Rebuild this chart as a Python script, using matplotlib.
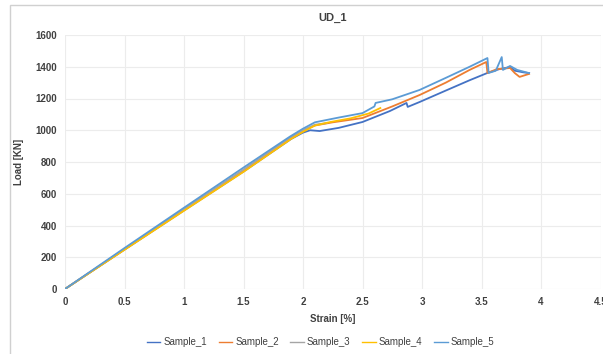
import matplotlib.pyplot as plt
from matplotlib.patches import Rectangle

# strain [%] / load [KN]
s1_strain = [0, 0.5, 1.0, 1.5, 1.9, 2.0, 2.06, 2.14, 2.3, 2.5, 2.73, 2.87, 2.88, 2.98, 3.2, 3.4, 3.55, 3.65, 3.74, 3.78, 3.85, 3.9]
s1_load = [0, 248, 495, 740, 945, 985, 1000, 995, 1015, 1052, 1121, 1172, 1147, 1178, 1250, 1315, 1361, 1385, 1398, 1375, 1365, 1360]

s2_strain = [0, 0.5, 1.0, 1.5, 1.9, 2.0, 2.1, 2.25, 2.5, 2.75, 2.98, 3.2, 3.4, 3.54, 3.55, 3.63, 3.74, 3.78, 3.82, 3.9]
s2_load = [0, 250, 500, 748, 955, 998, 1030, 1050, 1077, 1150, 1222, 1300, 1380, 1430, 1361, 1385, 1392, 1360, 1336, 1355]

s3_strain = [0, 0.5, 1.0, 1.5, 1.9, 2.0, 2.1, 2.2]
s3_load = [0, 252, 502, 752, 958, 1000, 1035, 1045]

s4_strain = [0, 0.5, 1.0, 1.5, 1.9, 2.0, 2.1, 2.23, 2.4, 2.55, 2.65]
s4_load = [0, 247, 493, 738, 945, 990, 1030, 1052, 1075, 1105, 1140]

s5_strain = [0, 0.5, 1.0, 1.5, 1.89, 2.0, 2.1, 2.3, 2.5, 2.6, 2.61, 2.75, 2.98, 3.2, 3.4, 3.55, 3.56, 3.62, 3.67, 3.68, 3.74, 3.8, 3.85, 3.9]
s5_load = [0, 258, 512, 765, 960, 1010, 1050, 1080, 1108, 1150, 1172, 1195, 1254, 1330, 1400, 1455, 1361, 1375, 1461, 1380, 1405, 1380, 1370, 1360]

names = ['Sample_1', 'Sample_2', 'Sample_3', 'Sample_4', 'Sample_5']
colors = ['#4472C4', '#ED7D31', '#A5A5A5', '#FFC000', '#5B9BD5']
x_ticks = [0, 0.5, 1, 1.5, 2, 2.5, 3, 3.5, 4, 4.5]
x_labels = ['0', '0.5', '1', '1.5', '2', '2.5', '3', '3.5', '4', '4.5']
y_ticks = [0, 200, 400, 600, 800, 1000, 1200, 1400, 1600]

plt.rcParams['font.family'] = ['Liberation Sans', 'DejaVu Sans']

fig = plt.figure(figsize=(6.03, 3.54), dpi=100)
ax = fig.add_axes([65 / 603, 1 - 289 / 354, (600.5 - 65) / 603, (289 - 35) / 354])

# outer chart frame
fig.patches.append(Rectangle((10 / 603, -0.1), 1.2, 1 - 5 / 354 + 0.1, transform=fig.transFigure,
                             fill=False, edgecolor='#d0d0d0', linewidth=1, clip_on=False))

series = [(s1_strain, s1_load), (s2_strain, s2_load), (s3_strain, s3_load),
          (s4_strain, s4_load), (s5_strain, s5_load)]
for (xs, ys), name, c in zip(series, names, colors):
    ax.plot(xs, ys, color=c, linewidth=1.3, label=name)

ax.set_xlim(0, 4.5)
ax.set_ylim(0, 1600)
ax.set_xticks(x_ticks)
ax.set_xticklabels(x_labels)
ax.set_yticks(y_ticks)
ax.grid(True, color='#ececec', linewidth=0.8)
ax.set_axisbelow(True)
for sp in ax.spines.values():
    sp.set_visible(False)
ax.tick_params(length=0, labelsize=7, labelcolor='#404040', pad=6)
for lbl in ax.get_xticklabels() + ax.get_yticklabels():
    lbl.set_fontweight('bold')

ax.set_title('UD_1', fontsize=8, fontweight='bold', color='#404040', pad=10)
ax.set_xlabel('Strain [%]', fontsize=7, fontweight='bold', color='#404040', labelpad=5)
ax.set_ylabel('Load [KN]', fontsize=7, fontweight='bold', color='#404040', labelpad=8)

leg = ax.legend(loc='upper center', bbox_to_anchor=(0.477, -0.155), ncol=5, frameon=False,
                fontsize=7, handlelength=1.4, handletextpad=0.3, columnspacing=1.2,
                labelcolor='#404040')
for h in leg.get_lines():
    h.set_linewidth(1.0)

fig.savefig('out.png', dpi=100)
